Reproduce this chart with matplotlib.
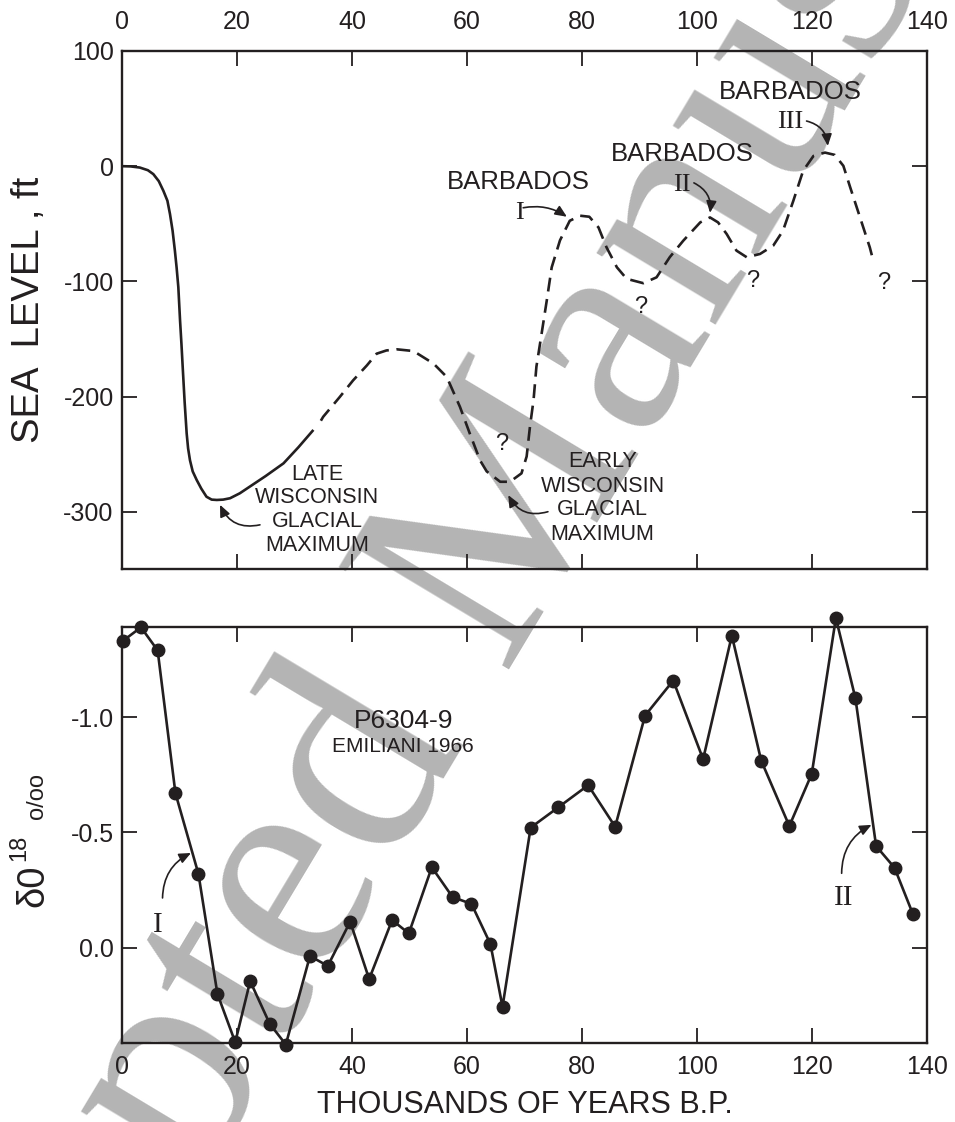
import matplotlib
matplotlib.use('Agg')
import matplotlib.pyplot as plt

plt.rcParams['font.family'] = ['Liberation Sans', 'DejaVu Sans']
plt.rcParams['axes.unicode_minus'] = False
plt.rcParams['lines.scale_dashes'] = False

INK = '#231f20'
GRAY = '#b4b4b4'
SERIF = ['Liberation Serif', 'DejaVu Serif']

# ---------------- data ----------------
# Sea level curve (thousands of years B.P., ft)
sl_solid_x = [0, 1.5, 3.1, 4.5, 5.45, 6.4, 7.2, 7.9, 8.35, 8.8, 9.2, 9.5, 9.8, 10.1,
              10.35, 10.56, 10.9, 11.25, 11.5, 11.83, 12.3, 13.0, 13.8, 14.7, 15.6,
              16.5, 17.6, 18.8, 20.5, 22.3, 25.0, 28.1, 30.7, 33.3]
sl_solid_y = [0, -0.2, -1.2, -3.5, -6.9, -13, -21.4, -30, -41.6, -56, -73.3, -88, -105, -134,
              -155, -174.4, -205, -232, -245, -255.4, -265, -272.5, -280, -287, -289.5,
              -289.8, -289.5, -288.3, -284, -278, -269, -258, -244, -229]

sl_dash_x = [34.6, 35.0, 37.9, 40.2, 42.6, 44.3, 46.0, 47.8, 50.7, 54.2, 56.5, 58.8, 60.5,
             62.3, 63.45, 65.8, 67.5, 69.5, 70.4, 70.98, 71.6, 72.1, 73.0, 73.9, 74.76,
             76.2, 77.9, 79.7, 81.3, 82.9, 84.3, 86.1, 87.8, 90.7, 93.0, 95.3, 97.65,
             100.6, 102.3, 103.7, 105.2, 106.9, 108.7, 111.0, 113.3, 115.0, 116.8, 118.5,
             120.3, 122.3, 124.0, 125.5, 126.7, 128.4, 130.1, 130.7]
sl_dash_y = [-221, -217.6, -200.3, -186, -173, -162.8, -160, -159, -160.5, -171.4, -183, -209,
             -232, -255.5, -265, -274, -274, -266.7, -252, -226, -203, -174, -145.5, -116.6,
             -87.8, -64.4, -47.4, -43, -43.9, -53.2, -70.5, -87.8, -97.8, -101.6, -96.5, -79,
             -64.7, -48.8, -44.5, -48.8, -58.9, -73.3, -79.1, -76.2, -69, -56, -30, -4,
             8.9, 11.8, 9.8, 0.3, -18.5, -44.5, -70.5, -82]

# Oxygen isotope record, core P6304-9 (Emiliani 1966)
d18_x = [0.1, 3.3, 6.2, 9.3, 13.3, 16.6, 19.7, 22.3, 25.7, 28.5, 32.7, 35.8, 39.7, 43.0,
         47.0, 49.9, 53.9, 57.5, 60.8, 64.1, 66.2, 71.1, 75.9, 81.1, 85.8, 91.0, 95.9,
         101.1, 106.1, 111.2, 116.1, 120.0, 124.2, 127.6, 131.2, 134.4, 137.6]
d18_y = [-1.33, -1.39, -1.29, -0.67, -0.32, 0.20, 0.41, 0.145, 0.33, 0.42, 0.036, 0.079,
         -0.113, 0.136, -0.12, -0.062, -0.349, -0.22, -0.19, -0.016, 0.256, -0.521, -0.609,
         -0.705, -0.525, -1.007, -1.159, -0.818, -1.354, -0.812, -0.528, -0.754, -1.43,
         -1.082, -0.441, -0.347, -0.146]

x_ticks = [0, 20, 40, 60, 80, 100, 120, 140]
sl_ticks = [100, 0, -100, -200, -300]
d18_ticks = [-1.0, -0.5, 0.0]
d18_ticklabels = ['-1.0', '-0.5', '0.0']

# ---------------- figure ----------------
W, H = 955, 1122
fig = plt.figure(figsize=(W / 100, H / 100), dpi=100)


def fx(px):
    return px / W


def fy(py):
    return 1 - py / H


fig.text(fx(547), fy(608), 'Accepted Manuscript', rotation=59, rotation_mode='anchor',
         ha='center', va='baseline', fontsize=218, family=SERIF, color=GRAY, zorder=-10)

ax1 = fig.add_axes([fx(122), fy(569.3), fx(926.7) - fx(122), fy(51) - fy(569.3)])
ax2 = fig.add_axes([fx(122), fy(1042.7), fx(926.7) - fx(122), fy(627.3) - fy(1042.7)])

for ax in (ax1, ax2):
    ax.set_facecolor('none')
    for s in ax.spines.values():
        s.set_linewidth(1.7)
        s.set_color(INK)
    ax.tick_params(direction='in', length=10.8, width=1.3, color=INK, labelcolor=INK,
                   labelsize=18, top=True, right=True)
    ax.set_xlim(0, 140)
    ax.set_xticks(x_ticks)

# ---- top panel ----
ax1.plot(sl_solid_x, sl_solid_y, color=INK, lw=1.9, solid_capstyle='butt')
ax1.plot(sl_dash_x, sl_dash_y, color=INK, lw=1.9, dashes=(10, 5.5), dash_capstyle='butt')
ax1.set_ylim(-350, 100)
ax1.set_yticks(sl_ticks)
ax1.set_yticklabels([str(v) for v in sl_ticks])
ax1.tick_params(axis='x', labeltop=True, labelbottom=False, pad=12)
ax1.tick_params(axis='y', pad=6)

txt = dict(color=INK, ha='center', va='baseline')
for (x, y) in [(68.9, -19.9), (97.4, 4.6), (116.3, 58.0)]:
    ax1.text(x, y, 'BARBADOS', fontsize=18.5, **txt)
for (x, y, s) in [(69.1, -45.6, 'I'), (97.4, -21.4, 'II'), (116.3, 33.4, 'III')]:
    ax1.text(x, y, s, fontsize=19, family=SERIF, **txt)
for (x, y) in [(90.3, -127.6), (109.8, -104.5), (132.5, -106.5), (66.1, -246.5)]:
    ax1.text(x, y, '?', fontsize=17, **txt)

for s, y in zip(['LATE', 'WISCONSIN', 'GLACIAL', 'MAXIMUM'], [-272.5, -292.6, -312.9, -334.5]):
    ax1.text(34.0, y, s, fontsize=15.5, **txt)
for s, y in zip(['EARLY', 'WISCONSIN', 'GLACIAL', 'MAXIMUM'], [-261, -282.6, -302.8, -324.4]):
    ax1.text(83.6, y, s, fontsize=15.5, **txt)

arrow = dict(arrowstyle='-|>,head_length=0.5,head_width=0.22', color=INK, lw=1.2,
             shrinkA=0, shrinkB=0, mutation_scale=14)
ax1.annotate('', xy=(17.05, -294), xytext=(24.0, -311.4),
             arrowprops=dict(connectionstyle='arc3,rad=-0.4', **arrow))
ax1.annotate('', xy=(67.2, -285.6), xytext=(74.1, -300),
             arrowprops=dict(connectionstyle='arc3,rad=-0.4', **arrow))
ax1.annotate('', xy=(77.4, -43.9), xytext=(69.8, -36.1),
             arrowprops=dict(connectionstyle='arc3,rad=-0.2', **arrow))
ax1.annotate('', xy=(102.3, -40.5), xytext=(99.5, -14.5),
             arrowprops=dict(connectionstyle='arc3,rad=-0.35', **arrow))
ax1.annotate('', xy=(122.8, 17.6), xytext=(119.1, 39.2),
             arrowprops=dict(connectionstyle='arc3,rad=-0.35', **arrow))

# ---- bottom panel ----
ax2.plot(d18_x, d18_y, color=INK, lw=1.9, marker='o', ms=9, mfc=INK, mec=INK, clip_on=False)
ax2.set_ylim(0.412, -1.39)
ax2.set_yticks(d18_ticks)
ax2.set_yticklabels(d18_ticklabels)
ax2.set_xticklabels([str(v) for v in x_ticks])
ax2.tick_params(axis='x', pad=9)
ax2.tick_params(axis='y', pad=6)

ax2.text(48.95, -0.952, 'P6304-9', fontsize=19, **txt)
ax2.text(48.95, -0.851, 'EMILIANI 1966', fontsize=15, **txt)
ax2.text(6.26, -0.068, 'I', fontsize=21, family=SERIF, **txt)
ax2.text(125.5, -0.185, 'II', fontsize=21, family=SERIF, **txt)
ax2.annotate('', xy=(12.0, -0.411), xytext=(7.05, -0.216),
             arrowprops=dict(connectionstyle='arc3,rad=-0.3', **arrow))
ax2.annotate('', xy=(130.4, -0.533), xytext=(125.2, -0.323),
             arrowprops=dict(connectionstyle='arc3,rad=-0.3', **arrow))

# ---- axis titles ----
fig.text(fx(29), fy(310), 'SEA  LEVEL , ft', rotation=90, ha='center', va='center',
         fontsize=27.5, color=INK)
lab = dict(rotation=90, rotation_mode='anchor', ha='left', va='baseline', color=INK)
fig.text(fx(43), fy(907), 'δ0', fontsize=27.5, **lab)
fig.text(fx(25), fy(861), '18', fontsize=17, **lab)
fig.text(fx(43), fy(819), 'o/oo', fontsize=17, **lab)
fig.text(fx(524.4), fy(1113.3), 'THOUSANDS OF YEARS B.P.', ha='center', va='baseline',
         fontsize=22, color=INK)

fig.savefig('out.png', dpi=100)
